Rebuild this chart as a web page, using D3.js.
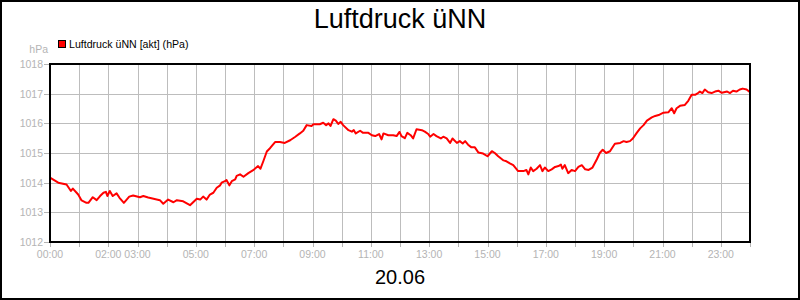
<!DOCTYPE html>
<html>
<head>
<meta charset="utf-8">
<script src="https://cdn.jsdelivr.net/npm/d3@7"></script>
<style>
  body { margin: 0; background: #fff; }
  svg { display: block; font-family: "Liberation Sans", Arial, sans-serif; }
</style>
</head>
<body>
<script>
// minutes of the day and air pressure (hPa)
let minutes = [0, 17, 34, 43, 47, 58, 65, 75, 79, 88, 96, 103, 110, 115, 118, 123, 129, 137, 143, 152,
	163, 171, 185, 192, 202, 213, 226, 233, 243, 254, 261, 274, 288, 302, 309, 315, 322, 329, 336, 343,
	350, 353, 360, 363, 369, 374, 381, 384, 391, 398, 408, 418, 428, 433, 439, 446, 453, 463, 473, 483,
	494, 504, 514, 521, 528, 538, 542, 555, 562, 568, 573, 577, 583, 588, 593, 598, 603, 614, 621, 625,
	629, 638, 644, 655, 662, 669, 677, 682, 686, 696, 706, 713, 719, 723, 730, 735, 742, 747, 754, 765,
	771, 778, 782, 789, 795, 804, 809, 816, 823, 828, 837, 843, 849, 854, 860, 867, 874, 881, 891, 900,
	909, 915, 922, 933, 939, 946, 953, 963, 974, 980, 984, 989, 994, 1001, 1008, 1013, 1018, 1025, 1032, 1039,
	1046, 1051, 1054, 1059, 1066, 1073, 1080, 1087, 1094, 1101, 1108, 1116, 1125, 1131, 1137, 1144, 1152, 1162, 1173, 1180,
	1186, 1193, 1199, 1207, 1214, 1221, 1228, 1238, 1245, 1252, 1262, 1272, 1279, 1284, 1289, 1296, 1306, 1313, 1320, 1327,
	1333, 1337, 1342, 1347, 1354, 1361, 1368, 1375, 1382, 1393, 1399, 1405, 1412, 1419, 1425, 1433, 1440];
let pressure = [1014.17, 1014.00, 1013.94, 1013.72, 1013.80, 1013.60, 1013.40, 1013.32, 1013.32, 1013.51, 1013.41, 1013.55, 1013.66, 1013.69, 1013.55, 1013.72, 1013.55, 1013.64, 1013.49, 1013.32,
	1013.53, 1013.57, 1013.51, 1013.55, 1013.50, 1013.46, 1013.41, 1013.29, 1013.43, 1013.34, 1013.41, 1013.37, 1013.24, 1013.46, 1013.43, 1013.53, 1013.43, 1013.60, 1013.66, 1013.83,
	1013.91, 1014.00, 1014.05, 1014.09, 1013.91, 1014.05, 1014.11, 1014.23, 1014.28, 1014.20, 1014.32, 1014.42, 1014.56, 1014.47, 1014.73, 1015.05, 1015.17, 1015.37, 1015.37, 1015.34,
	1015.43, 1015.54, 1015.66, 1015.75, 1015.94, 1015.91, 1015.97, 1015.97, 1016.02, 1015.94, 1016.00, 1015.91, 1016.14, 1016.09, 1015.98, 1016.05, 1015.94, 1015.77, 1015.72, 1015.77,
	1015.66, 1015.75, 1015.68, 1015.68, 1015.60, 1015.57, 1015.64, 1015.46, 1015.66, 1015.60, 1015.60, 1015.57, 1015.71, 1015.57, 1015.50, 1015.68, 1015.60, 1015.49, 1015.80, 1015.77,
	1015.72, 1015.64, 1015.55, 1015.64, 1015.57, 1015.49, 1015.55, 1015.49, 1015.34, 1015.49, 1015.34, 1015.40, 1015.32, 1015.40, 1015.28, 1015.19, 1015.19, 1015.02, 1014.98, 1014.89,
	1015.06, 1015.00, 1014.89, 1014.75, 1014.72, 1014.65, 1014.59, 1014.39, 1014.39, 1014.43, 1014.28, 1014.51, 1014.39, 1014.47, 1014.59, 1014.39, 1014.51, 1014.39, 1014.45, 1014.53,
	1014.56, 1014.61, 1014.47, 1014.59, 1014.32, 1014.43, 1014.39, 1014.53, 1014.59, 1014.45, 1014.43, 1014.51, 1014.79, 1015.00, 1015.11, 1015.00, 1015.06, 1015.31, 1015.34, 1015.40,
	1015.37, 1015.40, 1015.49, 1015.68, 1015.83, 1015.94, 1016.09, 1016.20, 1016.25, 1016.28, 1016.36, 1016.37, 1016.51, 1016.34, 1016.51, 1016.59, 1016.62, 1016.76, 1016.96, 1016.96,
	1017.02, 1017.07, 1017.02, 1017.14, 1017.05, 1017.02, 1017.07, 1017.10, 1017.03, 1017.07, 1017.02, 1017.10, 1017.07, 1017.14, 1017.17, 1017.14, 1017.05];

let yTicks = [1012, 1013, 1014, 1015, 1016, 1017, 1018];
let gridHours = d3.range(0, 25); //a grid line every hour
let labelHours = [0, 2, 3, 5, 7, 9, 11, 13, 15, 17, 19, 21, 23];
let hourLabels = ["00:00", "02:00", "03:00", "05:00", "07:00", "09:00", "11:00", "13:00", "15:00", "17:00", "19:00", "21:00", "23:00"];

let chartTitle = "Luftdruck üNN";
let seriesName = "Luftdruck üNN [akt] (hPa)";
let unit = "hPa";
let dayLabel = "20.06";

let data = minutes.map((m, i) => ({ t: m, v: pressure[i] }));

let svg = d3.select("body").append("svg")
	.attr("width", 800)
	.attr("height", 300);

let margin = { top: 64, left: 50, right: 50, bottom: 58 };
let innerWidth = 800 - margin.left - margin.right;
let innerHeight = 300 - margin.top - margin.bottom;

let axisGrey = "#b4b4b4";

let scaleX = d3.scaleLinear()
	.domain([0, 1440])
	.range([0, innerWidth]);

let scaleY = d3.scaleLinear()
	.domain([1012, 1018])
	.range([innerHeight, 0]);

let g = svg.append("g")
	.attr("transform", `translate(${margin.left}, ${margin.top})`);

let px = v => Math.round(v) + 0.5; //crisp 1px lines

//grid
g.append("g")
	.selectAll("line")
	.data(gridHours)
	.join("line")
	.attr("x1", d => px(scaleX(d * 60)))
	.attr("x2", d => px(scaleX(d * 60)))
	.attr("y1", 0)
	.attr("y2", innerHeight)
	.attr("stroke", "#bdbdbd");

g.append("g")
	.selectAll("line")
	.data(yTicks)
	.join("line")
	.attr("x1", 0)
	.attr("x2", innerWidth)
	.attr("y1", d => px(scaleY(d)))
	.attr("y2", d => px(scaleY(d)))
	.attr("stroke", "#bdbdbd");

//tick marks outside the frame
g.append("g")
	.selectAll("line")
	.data(yTicks)
	.join("line")
	.attr("x1", -6)
	.attr("x2", 0)
	.attr("y1", d => px(scaleY(d)))
	.attr("y2", d => px(scaleY(d)))
	.attr("stroke", axisGrey);

g.append("g")
	.selectAll("line")
	.data(gridHours)
	.join("line")
	.attr("x1", d => px(scaleX(d * 60)))
	.attr("x2", d => px(scaleX(d * 60)))
	.attr("y1", innerHeight)
	.attr("y2", innerHeight + 5)
	.attr("stroke", axisGrey);

//tick labels
g.append("g")
	.selectAll("text")
	.data(yTicks)
	.join("text")
	.attr("x", -7)
	.attr("y", d => scaleY(d) + 4)
	.attr("text-anchor", "end")
	.attr("font-size", 10.5)
	.attr("fill", axisGrey)
	.text(d => d);

g.append("g")
	.selectAll("text")
	.data(labelHours)
	.join("text")
	.attr("x", d => scaleX(d * 60))
	.attr("y", innerHeight + 15.5)
	.attr("text-anchor", "middle")
	.attr("font-size", 10.5)
	.attr("fill", axisGrey)
	.text((d, i) => hourLabels[i]);

//unit label
g.append("text")
	.attr("x", -2)
	.attr("y", -11)
	.attr("text-anchor", "end")
	.attr("font-size", 10.5)
	.attr("fill", axisGrey)
	.text(unit);

//the line
let line = d3.line()
	.x(d => scaleX(d.t))
	.y(d => scaleY(d.v));

g.append("path")
	.datum(data)
	.attr("fill", "none")
	.attr("stroke", "#ff0000")
	.attr("stroke-width", 2)
	.attr("stroke-linejoin", "round")
	.attr("d", line);

//plot frame
g.append("rect")
	.attr("x", 0).attr("y", 0)
	.attr("width", innerWidth)
	.attr("height", innerHeight)
	.attr("fill", "none")
	.attr("stroke", "#000")
	.attr("stroke-width", 2);

//legend
svg.append("rect")
	.attr("x", 58.5).attr("y", 40.5)
	.attr("width", 7).attr("height", 7)
	.attr("fill", "#ff0000")
	.attr("stroke", "#000");

svg.append("text")
	.attr("x", 69)
	.attr("y", 48)
	.attr("font-size", 10.6)
	.attr("fill", "#000")
	.text(seriesName);

//titles
svg.append("text")
	.attr("x", 400)
	.attr("y", 28)
	.attr("text-anchor", "middle")
	.attr("font-size", 27)
	.text(chartTitle);

svg.append("text")
	.attr("x", 400)
	.attr("y", 284)
	.attr("text-anchor", "middle")
	.attr("font-size", 20)
	.text(dayLabel);

//outer frame, drawn last
svg.append("rect")
	.attr("x", 1).attr("y", 1)
	.attr("width", 798).attr("height", 298)
	.attr("fill", "none")
	.attr("stroke", "#000")
	.attr("stroke-width", 2);
</script>
</body>
</html>
